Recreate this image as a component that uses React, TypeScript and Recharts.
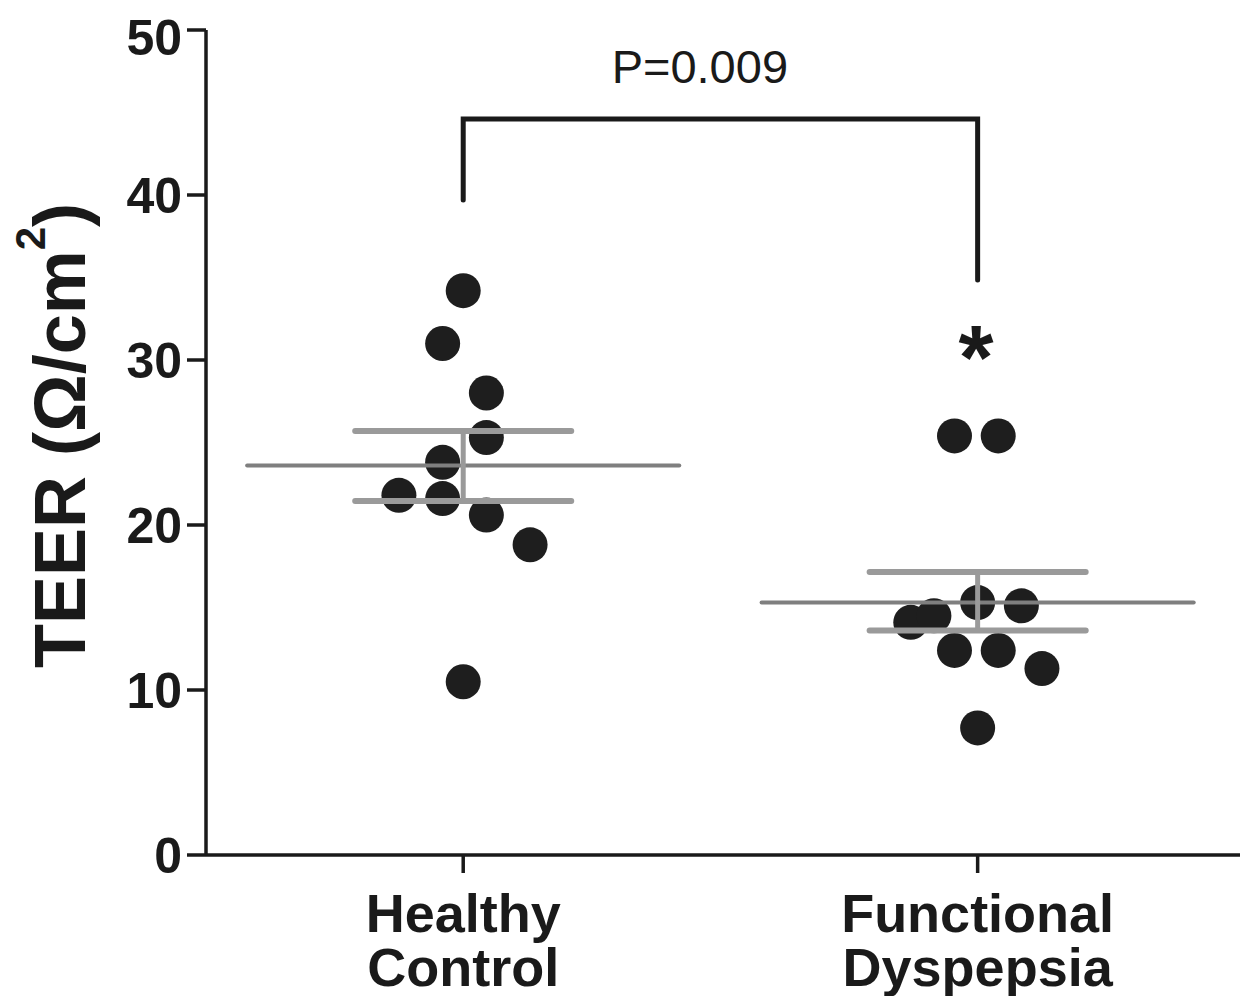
import { Label, Scatter, ScatterChart, XAxis, YAxis } from "recharts";

// groups on a numeric x axis so the dots can be spread sideways
const groupX = [1, 2];
const groupLines = [
  ["Healthy", "Control"],
  ["Functional", "Dyspepsia"],
];

const healthyX = [1.0, 0.96, 1.045, 1.045, 0.96, 0.875, 0.96, 1.045, 1.13, 1.0];
const healthyTeer = [34.2, 31.0, 28.0, 25.3, 23.8, 21.8, 21.6, 20.6, 18.8, 10.5];

const dyspepsiaX = [1.955, 2.04, 2.0, 2.085, 1.87, 1.915, 1.955, 2.04, 2.125, 2.0];
const dyspepsiaTeer = [25.4, 25.4, 15.3, 15.1, 14.1, 14.5, 12.4, 12.4, 11.3, 7.7];

const groupMean = [23.6, 15.3];
const groupSemHigh = [25.7, 17.15];
const groupSemLow = [21.45, 13.6];

const bracketX = [1, 1, 2, 2];
const bracketY = [39.7, 44.6, 44.6, 34.85];

const pValueText = "P=0.009";
const pValueAt = { x: 1.46, y: 46.8 };
const starAt = { x: 1.997, y: 28.25 };

const yTicks = [0, 10, 20, 30, 40, 50];

const INK = "#1a1a1a";
const FONT = "'Liberation Sans', Arial, Helvetica, sans-serif";
const MEAN_HALF = 0.42;
const SEM_HALF = 0.21;

const healthyPoints = healthyX.map((x, i) => ({ x, y: healthyTeer[i] }));
const dyspepsiaPoints = dyspepsiaX.map((x, i) => ({ x, y: dyspepsiaTeer[i] }));
const bracketPoints = bracketX.map((x, i) => ({ x, y: bracketY[i] }));

const hline = (cx: number, half: number, y: number) => [
  { x: cx - half, y },
  { x: cx + half, y },
];

const meanLines = groupX.map((gx, i) => hline(gx, MEAN_HALF, groupMean[i]));
const semHighLines = groupX.map((gx, i) => hline(gx, SEM_HALF, groupSemHigh[i]));
const semLowLines = groupX.map((gx, i) => hline(gx, SEM_HALF, groupSemLow[i]));
const semStems = groupX.map((gx, i) => [
  { x: gx, y: groupSemLow[i] },
  { x: gx, y: groupSemHigh[i] },
]);

const Dot = (p: any) => <circle cx={p.cx} cy={p.cy} r={17.5} fill="#1e1e1e" />;
const Nothing = () => <g />;

function GroupTick({ x, y, payload }: any) {
  const idx = groupX.indexOf(payload.value);
  const lines = groupLines[idx] ?? [];
  return (
    <g>
      {lines.map((line, i) => (
        <text
          key={line}
          x={x}
          y={y + 59 + i * 54}
          textAnchor="middle"
          fill={INK}
          fontSize={54}
          fontWeight={700}
          fontFamily={FONT}
        >
          {line}
        </text>
      ))}
    </g>
  );
}

function YTitle(props: any) {
  const vb = props.viewBox;
  const cx = vb.x + 77;
  const cy = vb.y + vb.height / 2 - 7;
  return (
    <text
      x={cx}
      y={cy}
      transform={`rotate(-90 ${cx} ${cy})`}
      textAnchor="middle"
      fill={INK}
      fontSize={72}
      fontWeight={700}
      fontFamily={FONT}
    >
      TEER (Ω/cm
      <tspan dy={-40} fontSize={42}>
        2
      </tspan>
      <tspan dy={40}>)</tspan>
    </text>
  );
}

const PText = (p: any) => (
  <text x={p.cx} y={p.cy} textAnchor="middle" fill={INK} fontSize={47} fontFamily={FONT}>
    {pValueText}
  </text>
);

const Star = (p: any) => (
  <text x={p.cx} y={p.cy} textAnchor="middle" fill={INK} fontSize={90} fontWeight={700} fontFamily={FONT}>
    *
  </text>
);

export default function App() {
  const axisStroke = { stroke: INK, strokeWidth: 3.5 };
  return (
    <div style={{ width: 1232, height: 988, fontFamily: FONT }}>
      <ScatterChart width={1232} height={988} margin={{ top: 22, right: 0, left: 0, bottom: 0 }}>
        <XAxis
          type="number"
          dataKey="x"
          domain={[0.5, 2.51]}
          ticks={groupX}
          allowDataOverflow
          height={141}
          tickSize={18}
          tickMargin={0}
          axisLine={axisStroke}
          tickLine={axisStroke}
          tick={<GroupTick />}
        />
        <YAxis
          type="number"
          dataKey="y"
          domain={[0, 50]}
          ticks={yTicks}
          allowDataOverflow
          width={198}
          tickSize={19}
          tickMargin={5}
          axisLine={axisStroke}
          tickLine={axisStroke}
          tick={{ fill: INK, fontSize: 50, fontWeight: 700, fontFamily: FONT }}
        >
          <Label content={<YTitle />} />
        </YAxis>

        <Scatter data={healthyPoints} shape={Dot} isAnimationActive={false} />
        <Scatter data={dyspepsiaPoints} shape={Dot} isAnimationActive={false} />

        {groupX.map((gx, i) => (
          <Scatter
            key={`mean-${gx}`}
            data={meanLines[i]}
            shape={Nothing}
            line={{ stroke: "#7f7f7f", strokeWidth: 4, strokeLinecap: "round" }}
            isAnimationActive={false}
          />
        ))}
        {groupX.map((gx, i) => (
          <Scatter
            key={`semhi-${gx}`}
            data={semHighLines[i]}
            shape={Nothing}
            line={{ stroke: "#9a9a9a", strokeWidth: 6, strokeLinecap: "round" }}
            isAnimationActive={false}
          />
        ))}
        {groupX.map((gx, i) => (
          <Scatter
            key={`semlo-${gx}`}
            data={semLowLines[i]}
            shape={Nothing}
            line={{ stroke: "#9a9a9a", strokeWidth: 6, strokeLinecap: "round" }}
            isAnimationActive={false}
          />
        ))}
        {groupX.map((gx, i) => (
          <Scatter
            key={`stem-${gx}`}
            data={semStems[i]}
            shape={Nothing}
            line={{ stroke: "#9a9a9a", strokeWidth: 5 }}
            isAnimationActive={false}
          />
        ))}

        <Scatter
          data={bracketPoints}
          shape={Nothing}
          line={{ stroke: INK, strokeWidth: 5, strokeLinecap: "round", strokeLinejoin: "miter" }}
          isAnimationActive={false}
        />
        <Scatter data={[pValueAt]} shape={PText} isAnimationActive={false} />
        <Scatter data={[starAt]} shape={Star} isAnimationActive={false} />
      </ScatterChart>
    </div>
  );
}
